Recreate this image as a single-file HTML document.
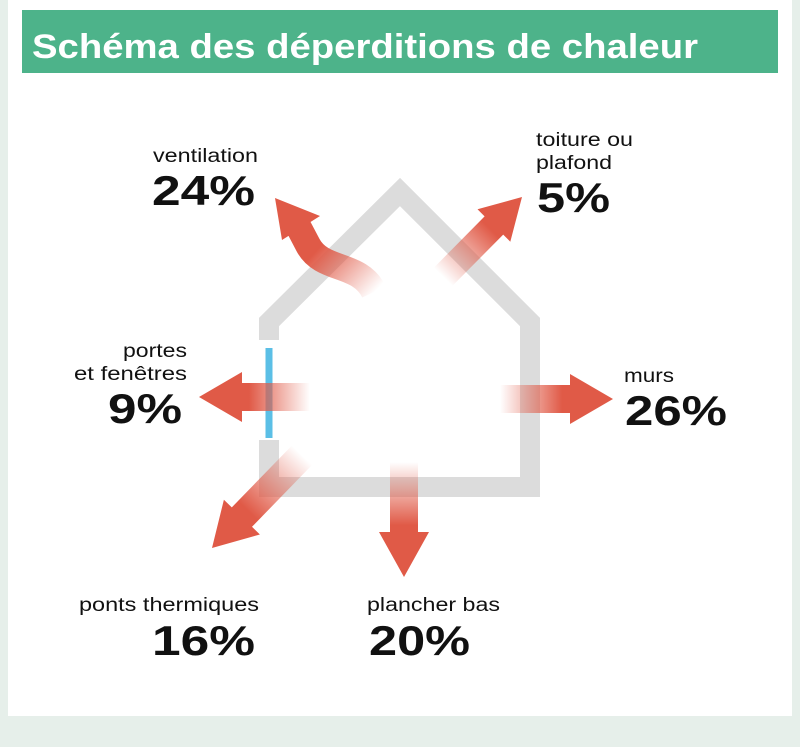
<!DOCTYPE html>
<html><head><meta charset="utf-8"><style>
html,body{margin:0;padding:0;background:#e6efea;}
svg{display:block;font-family:"Liberation Sans",sans-serif;}
</style></head><body>
<svg width="800" height="747" viewBox="0 0 800 747" xmlns="http://www.w3.org/2000/svg">
<defs>
<linearGradient id="gL" x1="310" y1="0" x2="199" y2="0" gradientUnits="userSpaceOnUse"><stop offset="0" stop-color="#e05a47" stop-opacity="0"/><stop offset="0.55" stop-color="#e05a47"/></linearGradient>
<linearGradient id="gR" x1="500" y1="0" x2="613" y2="0" gradientUnits="userSpaceOnUse"><stop offset="0" stop-color="#e05a47" stop-opacity="0"/><stop offset="0.55" stop-color="#e05a47"/></linearGradient>
<linearGradient id="gD" x1="0" y1="462" x2="0" y2="577" gradientUnits="userSpaceOnUse"><stop offset="0" stop-color="#e05a47" stop-opacity="0"/><stop offset="0.55" stop-color="#e05a47"/></linearGradient>
<linearGradient id="gDL" x1="302" y1="455" x2="212" y2="548" gradientUnits="userSpaceOnUse"><stop offset="0" stop-color="#e05a47" stop-opacity="0"/><stop offset="0.6" stop-color="#e05a47"/></linearGradient>
<linearGradient id="gUR" x1="443" y1="277" x2="522" y2="197" gradientUnits="userSpaceOnUse"><stop offset="0" stop-color="#e05a47" stop-opacity="0"/><stop offset="0.6" stop-color="#e05a47"/></linearGradient>
<linearGradient id="gV" x1="372" y1="295" x2="285" y2="215" gradientUnits="userSpaceOnUse"><stop offset="0" stop-color="#e05a47" stop-opacity="0"/><stop offset="0.6" stop-color="#e05a47"/></linearGradient>
</defs>
<rect x="0" y="0" width="800" height="747" fill="#e6efea"/>
<rect x="8" y="0" width="784" height="716" fill="#ffffff"/>
<rect x="22" y="10" width="756" height="63" fill="#4db38a"/>
<text x="32" y="58" font-size="34" font-weight="bold" fill="#fff" textLength="666" lengthAdjust="spacingAndGlyphs">Schéma des déperditions de chaleur</text>

<polyline points="269,340 269,322 400,192 530,322 530,487 269,487 269,440" fill="none" stroke="#dcdcdc" stroke-width="20"/>
<line x1="269" y1="348" x2="269" y2="438" stroke="#5bbfe6" stroke-width="7"/>

<polygon points="312,383 242,383 242,372 199,397 242,422 242,411 312,411" fill="url(#gL)"/>
<polygon points="498,385 570,385 570,374 613,399 570,424 570,413 498,413" fill="url(#gR)"/>
<polygon points="390,462 390,532 379,532 404,577 429,532 418,532 418,462" fill="url(#gD)"/>
<polygon points="212,548 259.9,534.5 252,526.8 312.6,464.4 292.4,445 231.8,507.4 223.9,499.7" fill="url(#gDL)"/>
<polygon points="522,197 510.3,241.7 503.2,234.6 452.5,285.8 434,267.6 484.6,216.4 477.5,209.3" fill="url(#gUR)"/>
<path d="M374,292 C360,262 322,272 308,245 L298,226" fill="none" stroke="url(#gV)" stroke-width="26"/>
<polygon points="275,198 320,216 282,240" fill="#e05a47"/>

<g fill="#111">
<text x="153" y="162" font-size="19" textLength="105" lengthAdjust="spacingAndGlyphs">ventilation</text>
<text x="152" y="205" font-size="42" font-weight="bold" textLength="103" lengthAdjust="spacingAndGlyphs">24%</text>
<text x="536" y="146" font-size="19" textLength="97" lengthAdjust="spacingAndGlyphs">toiture ou</text>
<text x="536" y="169" font-size="19" textLength="76" lengthAdjust="spacingAndGlyphs">plafond</text>
<text x="537" y="212" font-size="42" font-weight="bold" textLength="73" lengthAdjust="spacingAndGlyphs">5%</text>
<text x="123" y="357" font-size="19" textLength="64" lengthAdjust="spacingAndGlyphs">portes</text>
<text x="74" y="380" font-size="19" textLength="113" lengthAdjust="spacingAndGlyphs">et fenêtres</text>
<text x="108" y="423" font-size="42" font-weight="bold" textLength="74" lengthAdjust="spacingAndGlyphs">9%</text>
<text x="624" y="382" font-size="19" textLength="50" lengthAdjust="spacingAndGlyphs">murs</text>
<text x="625" y="425" font-size="42" font-weight="bold" textLength="102" lengthAdjust="spacingAndGlyphs">26%</text>
<text x="79" y="611" font-size="19" textLength="180" lengthAdjust="spacingAndGlyphs">ponts thermiques</text>
<text x="152" y="655" font-size="42" font-weight="bold" textLength="103" lengthAdjust="spacingAndGlyphs">16%</text>
<text x="367" y="611" font-size="19" textLength="133" lengthAdjust="spacingAndGlyphs">plancher bas</text>
<text x="369" y="655" font-size="42" font-weight="bold" textLength="101" lengthAdjust="spacingAndGlyphs">20%</text>
</g>
</svg>
</body></html>
